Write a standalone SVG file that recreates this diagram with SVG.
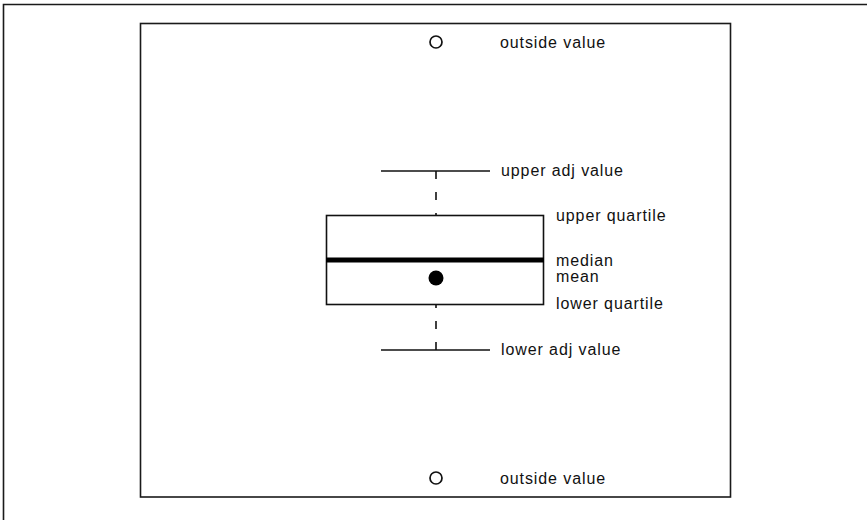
<svg xmlns="http://www.w3.org/2000/svg" width="867" height="520" viewBox="0 0 867 520">
<style>
.frame{fill:none;stroke:#1a1a1a;stroke-width:1.6}
.ln{stroke:#111;stroke-width:1.6;fill:none}
.dash{stroke:#111;stroke-width:1.6;stroke-dasharray:8 13;fill:none}
.lbl{font-family:"Liberation Sans",Arial,sans-serif;font-size:16px;letter-spacing:0.9px;fill:#111}
.out{fill:none;stroke:#111;stroke-width:1.7}
</style>
<rect width="867" height="520" fill="#fff"/>
<path class="frame" d="M3.5 520 V4.5 H867"/>
<rect class="frame" x="140.5" y="23.5" width="590" height="473.5"/>
<g id="connectors">
<line class="dash" x1="436" y1="171" x2="436" y2="216"/>
<line class="dash" x1="436" y1="350" x2="436" y2="305"/>
</g>
<g id="upper-outside">
<circle class="out" cx="436" cy="42" r="6"/>
<text class="lbl" x="500" y="48">outside value</text>
</g>
<g id="upper-adj">
<line class="ln" x1="381" y1="171" x2="490" y2="171"/>
<text class="lbl" x="501" y="176">upper adj value</text>
</g>
<g id="box">
<rect class="ln" x="326.5" y="215.5" width="217" height="89"/>
<text class="lbl" x="556" y="221">upper quartile</text>
<text class="lbl" x="556" y="309">lower quartile</text>
</g>
<g id="median">
<line x1="326" y1="260" x2="544" y2="260" stroke="#000" stroke-width="5"/>
<text class="lbl" x="556" y="266">median</text>
</g>
<g id="mean">
<circle cx="436" cy="278" r="7.5" fill="#000"/>
<text class="lbl" x="556" y="282">mean</text>
</g>
<g id="lower-adj">
<line class="ln" x1="381" y1="350" x2="490" y2="350"/>
<text class="lbl" x="501" y="355">lower adj value</text>
</g>
<g id="lower-outside">
<circle class="out" cx="436" cy="478" r="6"/>
<text class="lbl" x="500" y="484">outside value</text>
</g>
</svg>
